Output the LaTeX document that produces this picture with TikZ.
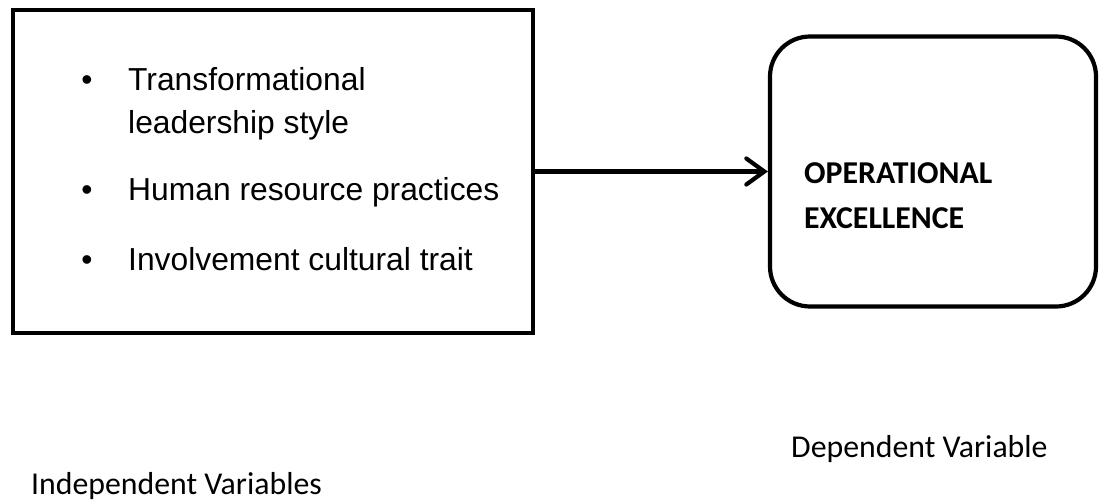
\documentclass[tikz,border=0pt]{standalone}
\usepackage{fontspec}
\setmainfont{Liberation Sans}
\newfontfamily\calib{Carlito}
\usetikzlibrary{arrows.meta}
\begin{document}
\begin{tikzpicture}[x=1pt,y=-1pt,
  boxline/.style={draw=black, line width=4.2pt},
  itemtxt/.style={inner sep=0pt, anchor=base west, font=\fontsize{31.8}{36}\selectfont},
  bullettxt/.style={inner sep=0pt, anchor=base, font=\fontsize{31.8}{36}\selectfont},
  dvtxt/.style={inner sep=0pt, anchor=base west, font=\calib\bfseries\fontsize{31.8}{36}\selectfont},
  lbltxt/.style={inner sep=0pt, anchor=base west, font=\calib\fontsize{31.8}{36}\selectfont}]
\useasboundingbox (0,0) rectangle (1099,503);
\node[boxline, minimum width=520pt, minimum height=323pt, inner sep=0pt] (iv) at (273,171.5) {};
\node[boxline, rounded corners=40pt, minimum width=326pt, minimum height=270pt, inner sep=0pt] (dv) at (933,171.5) {};
\node[bullettxt] (b1) at (87,90) {•};
\node[itemtxt] (t1a) at (128,90) {Transformational};
\node[itemtxt] (t1b) at (128,133) {leadership style};
\node[bullettxt] (b2) at (87,200) {•};
\node[itemtxt] (t2) at (128,200) {Human resource practices};
\node[bullettxt] (b3) at (87,270) {•};
\node[itemtxt] (t3) at (128,270) {Involvement cultural trait};
\node[dvtxt] (o1) at (804,183) {OPERATIONAL};
\node[dvtxt] (o2) at (804,228) {EXCELLENCE};
\node[lbltxt] (dl) at (791,457) {Dependent Variable};
\node[lbltxt] (il) at (31,494) {Independent Variables};
\draw[line width=4.2pt, -{Straight Barb[length=18pt,width=26pt,line cap=round]}] (iv.east) -- (dv.west);
\end{tikzpicture}
\end{document}
